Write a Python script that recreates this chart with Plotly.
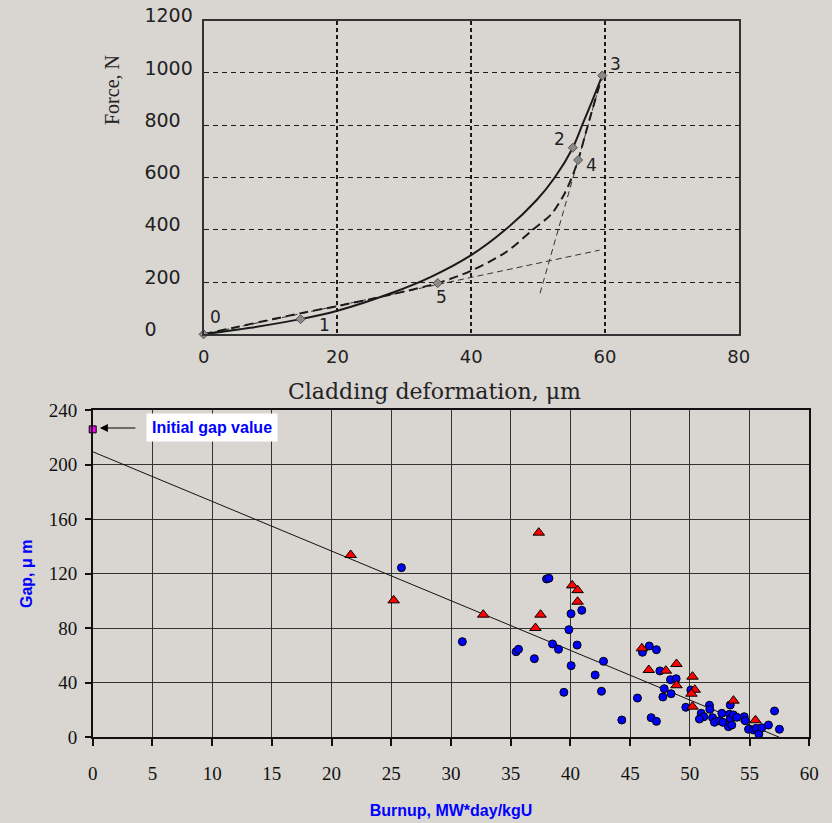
import plotly.graph_objects as go

# ---------------- Top chart: Force vs cladding deformation ----------------
solid_x = [0, 7, 14.5, 20, 28, 34, 40, 45.1, 49.8, 52.5, 55.2, 56.6, 58.2, 59.6]
solid_y = [0, 25, 58, 90, 157, 220, 303, 400, 514, 600, 714, 800, 900, 990]

dash_x = [0, 14.4, 20, 28, 35, 40, 45.3, 49.2, 52, 54, 55.2, 56, 57.4, 59.6]
dash_y = [0, 80, 108, 152, 196, 243, 316, 400, 460, 540, 610, 667, 795, 990]

tan1_x = [0, 59.2]
tan1_y = [0, 322]
tan2_x = [50.3, 59.6]
tan2_y = [157, 990]

pt_labels = ["0", "1", "5", "2", "4", "3"]
pt_x = [0, 14.5, 35, 55.2, 56, 59.6]
pt_y = [0, 58, 196, 714, 667, 990]
pt_shift = [(12, 17), (24, -6), (4, -14), (-13, 9), (13, -5), (13, 12)]

force_ticks = [0, 200, 400, 600, 800, 1000, 1200]
defo_ticks = [0, 20, 40, 60, 80]

# ---------------- Bottom chart: Gap vs burnup ----------------
circ_x = [25.85, 38.0, 38.2, 40.05, 40.95, 30.95, 35.45, 35.65, 36.98, 38.5, 39.0, 39.87,
          40.56, 40.06, 42.77, 42.07, 39.45, 42.6, 44.3, 46.03, 46.6, 47.2, 47.49, 48.38,
          48.85, 47.85, 48.43, 47.74, 45.61, 46.76, 47.2, 50.08, 49.66, 50.95, 51.17, 50.8,
          51.64, 51.67, 51.9, 52.06, 52.68, 52.48, 52.76, 53.32, 53.38, 53.38, 53.23, 53.51,
          53.65, 53.93, 54.55, 54.63, 54.91, 55.33, 55.55, 55.78, 56.03, 56.58, 57.09, 57.5]
circ_y = [124.5, 116.2, 116.7, 90.7, 93.2, 70.2, 62.8, 64.6, 57.7, 68.5, 64.6, 79,
          67.7, 52.6, 55.8, 45.7, 33, 33.8, 12.7, 62.4, 67, 64.3, 48.7, 42.3,
          43, 35.7, 32, 29.6, 28.8, 14.4, 11.7, 34.7, 22, 17.6, 15.1, 13.4,
          23.5, 20.5, 14.4, 11, 17.6, 12.2, 11, 16.9, 23.7, 13.4, 7.8, 9,
          16.4, 14.7, 15.1, 12.2, 5.9, 5.4, 6.6, 2.4, 7, 9, 19.3, 5.9]

tri_x = [21.6, 25.2, 37.35, 40.15, 40.6, 40.6, 32.7, 37.5, 37.07, 45.98, 46.56, 47.99,
         48.88, 48.88, 50.22, 50.41, 50.13, 50.22, 53.65, 55.49]
tri_y = [133.8, 100.5, 150.2, 111.5, 108, 99.5, 90, 90, 80.2, 65.3, 49.4, 48.9,
         53.8, 38.2, 44.5, 34.9, 32, 22.5, 26.9, 12.5]

init_x = [0]
init_y = [226]

fit_x = [0, 57.5]
fit_y = [209.6, 0]

gap_ticks = [0, 40, 80, 120, 160, 200, 240]
burn_ticks = list(range(0, 61, 5))

BG = "#d9d6d2"
INK = "#222222"
SANS_WIDE = "DejaVu Sans, Arial"
SERIF_WIDE = "DejaVu Serif, Times New Roman"
SERIF = "Times New Roman, Liberation Serif"

# left-aligned force tick labels (pad with figure spaces)
force_text = [str(v) + "\u2007" * (4 - len(str(v))) for v in force_ticks]

fig = go.Figure()

# top chart traces
fig.add_trace(go.Scatter(x=tan1_x, y=tan1_y, mode="lines", xaxis="x", yaxis="y",
                         line=dict(color="#333", width=1, dash="6px,4px"), showlegend=False))
fig.add_trace(go.Scatter(x=tan2_x, y=tan2_y, mode="lines", xaxis="x", yaxis="y",
                         line=dict(color="#333", width=1, dash="6px,4px"), showlegend=False))
fig.add_trace(go.Scatter(x=dash_x, y=dash_y, mode="lines", xaxis="x", yaxis="y",
                         line=dict(color="#1a1a1a", width=2, dash="9px,5px", shape="spline", smoothing=0.8),
                         showlegend=False))
fig.add_trace(go.Scatter(x=solid_x, y=solid_y, mode="lines", xaxis="x", yaxis="y",
                         line=dict(color="#1a1a1a", width=2, shape="spline", smoothing=0.8),
                         showlegend=False))
fig.add_trace(go.Scatter(x=pt_x, y=pt_y, mode="markers", xaxis="x", yaxis="y",
                         marker=dict(symbol="diamond", size=7, color="#8a8a8a",
                                     line=dict(color="#555", width=1)),
                         showlegend=False, cliponaxis=False))

# bottom chart traces
fig.add_trace(go.Scatter(x=fit_x, y=fit_y, mode="lines", xaxis="x2", yaxis="y2",
                         line=dict(color="#111", width=1), showlegend=False))
fig.add_trace(go.Scatter(x=circ_x, y=circ_y, mode="markers", xaxis="x2", yaxis="y2",
                         marker=dict(symbol="circle", size=8, color="#0000ff",
                                     line=dict(color="#000", width=1)),
                         showlegend=False))
fig.add_trace(go.Scatter(x=tri_x, y=tri_y, mode="markers", xaxis="x2", yaxis="y2",
                         marker=dict(symbol="triangle-up", size=10, color="#ff0000",
                                     line=dict(color="#000", width=1)),
                         showlegend=False))
fig.add_trace(go.Scatter(x=init_x, y=init_y, mode="markers", xaxis="x2", yaxis="y2",
                         marker=dict(symbol="square", size=7, color="#ff00ff",
                                     line=dict(color="#000", width=1)),
                         showlegend=False, cliponaxis=False))

annotations = []
for lab, x, y, (dx, dy) in zip(pt_labels, pt_x, pt_y, pt_shift):
    annotations.append(dict(x=x, y=y, xref="x", yref="y", text=lab, showarrow=False,
                            xshift=dx, yshift=dy,
                            font=dict(family=SANS_WIDE, size=17, color=INK)))

# axis titles of the top chart (positioned as in the reference)
annotations.append(dict(x=112 / 832, y=1 - 90 / 823, xref="paper", yref="paper",
                        text="Force, N", textangle=-90, showarrow=False,
                        xanchor="center", yanchor="middle",
                        font=dict(family=SERIF, size=20, color=INK)))
annotations.append(dict(x=434 / 832, y=1 - 391 / 823, xref="paper", yref="paper",
                        text="Cladding deformation, μm", showarrow=False,
                        xanchor="center", yanchor="middle",
                        font=dict(family=SERIF_WIDE, size=22, color=INK)))

# arrow + label for initial gap value
annotations.append(dict(x=0.6, y=227, xref="x2", yref="y2", text="", showarrow=True,
                        ax=37, ay=0, arrowhead=2, arrowsize=1.6, arrowwidth=1, arrowcolor="#000"))
annotations.append(dict(x=211.5 / 832, y=1 - 427 / 823, xref="paper", yref="paper",
                        xanchor="center", yanchor="middle",
                        text="<b>Initial gap value</b>", showarrow=False,
                        bgcolor="#ffffff", borderpad=5,
                        font=dict(family="Arial, Liberation Sans", size=16, color="#0000ff")))

fig.update_layout(
    width=832, height=823, autosize=False,
    margin=dict(l=0, r=0, t=0, b=0),
    paper_bgcolor=BG, plot_bgcolor=BG,
    annotations=annotations,
    xaxis=dict(domain=[203.6 / 832, 738.7 / 832], range=[0, 80], tickvals=defo_ticks,
               showgrid=True, gridcolor="#1a1a1a", gridwidth=2, griddash="4px,3px",
               showline=True, linecolor="#333", linewidth=2, mirror=True, zeroline=False,
               ticks="", ticklabelstandoff=5, automargin=False,
               tickfont=dict(family=SANS_WIDE, size=18, color=INK)),
    yaxis=dict(domain=[1 - 334.3 / 823, 1 - 20.7 / 823], range=[0, 1200],
               tickvals=force_ticks, ticktext=force_text,
               showgrid=True, gridcolor="#1a1a1a", gridwidth=1, griddash="5px,4px",
               showline=True, linecolor="#333", linewidth=2, mirror=True, zeroline=False,
               ticks="", ticklabelstandoff=5, ticklabelshift=-5, automargin=False,
               tickfont=dict(family=SANS_WIDE, size=19, color=INK)),
    xaxis2=dict(domain=[92.7 / 832, 809.3 / 832], range=[0, 60], tickvals=burn_ticks,
                anchor="y2",
                showgrid=True, gridcolor="#333", gridwidth=1,
                showline=True, linecolor="#111", linewidth=1.5, mirror=True, zeroline=False,
                ticks="outside", ticklen=7, tickwidth=2, tickcolor="#111",
                ticklabelstandoff=11, automargin=False,
                tickfont=dict(family=SERIF, size=19, color="#111"),
                title=dict(text="<b>Burnup, MW*day/kgU</b>", standoff=22,
                           font=dict(family="Arial, Liberation Sans", size=16, color="#0000ff"))),
    yaxis2=dict(domain=[1 - 737.3 / 823, 1 - 410.3 / 823], range=[0, 240], tickvals=gap_ticks,
                anchor="x2",
                showgrid=True, gridcolor="#333", gridwidth=1,
                showline=True, linecolor="#111", linewidth=1.5, mirror=True, zeroline=False,
                ticks="outside", ticklen=6, tickwidth=1.5, tickcolor="#111",
                ticklabelstandoff=4, automargin=False,
                tickfont=dict(family=SERIF, size=19, color="#111"),
                title=dict(text="<b>Gap, μ m</b>", standoff=12,
                           font=dict(family="Arial, Liberation Sans", size=16, color="#0000ff"))),
)

fig.write_html("out.html", config={"displayModeBar": False},
               post_script="document.body.style.margin='0';document.body.style.overflow='hidden';")
